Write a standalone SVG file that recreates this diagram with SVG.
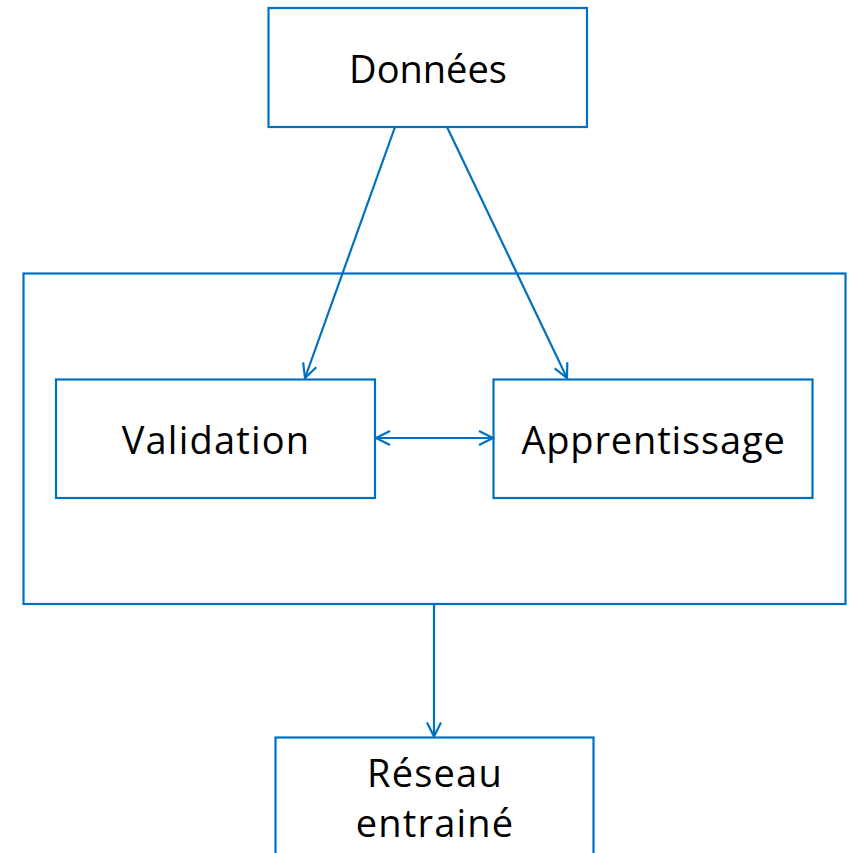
<svg xmlns="http://www.w3.org/2000/svg" width="852" height="853" viewBox="0 0 852 853">
<style>
.box{fill:#fff;stroke:#0070C0;stroke-width:2.2}
.frame{fill:none;stroke:#0070C0;stroke-width:2.2}
.lbl{font-family:"Open Sans","DejaVu Sans",sans-serif;font-size:38px;fill:#000;text-anchor:middle}
.sp{letter-spacing:1.2px}
.conn{stroke:#0070C0;stroke-width:2.2;fill:none}
</style>
<defs>
<marker id="arr" viewBox="0 0 17 17" refX="15.5" refY="8.5" markerWidth="17" markerHeight="17" markerUnits="userSpaceOnUse" orient="auto-start-reverse">
<path d="M1.5,1.5 L15.5,8.5 L1.5,15.5" fill="none" stroke="#0070C0" stroke-width="2.2"/>
</marker>
</defs>
<rect width="852" height="853" fill="#fff"/>
<g id="groupe">
<rect class="frame" x="23.5" y="273.5" width="822" height="330.5"/>
</g>
<g id="donnees">
<rect class="box" x="268.5" y="8" width="318.5" height="119"/>
<text class="lbl" x="428" y="83">Données</text>
</g>
<g id="validation">
<rect class="box" x="56" y="379.5" width="319" height="118.5"/>
<text class="lbl sp" x="216" y="454">Validation</text>
</g>
<g id="apprentissage">
<rect class="box" x="493.5" y="379.5" width="319" height="118.5"/>
<text class="lbl" x="653.5" y="454" style="letter-spacing:0.85px">Apprentissage</text>
</g>
<g id="reseau">
<rect class="box" x="275.5" y="737.5" width="318" height="130"/>
<text class="lbl sp" x="435" y="787">Réseau</text>
<text class="lbl sp" x="435" y="837">entrainé</text>
</g>
<g id="connecteurs">
<line class="conn" x1="395" y1="127" x2="305" y2="378" marker-end="url(#arr)"/>
<line class="conn" x1="447" y1="127" x2="567" y2="378" marker-end="url(#arr)"/>
<line class="conn" x1="376" y1="438" x2="493" y2="438" marker-start="url(#arr)" marker-end="url(#arr)"/>
<line class="conn" x1="434" y1="604" x2="434" y2="736.5" marker-end="url(#arr)"/>
</g>
</svg>
